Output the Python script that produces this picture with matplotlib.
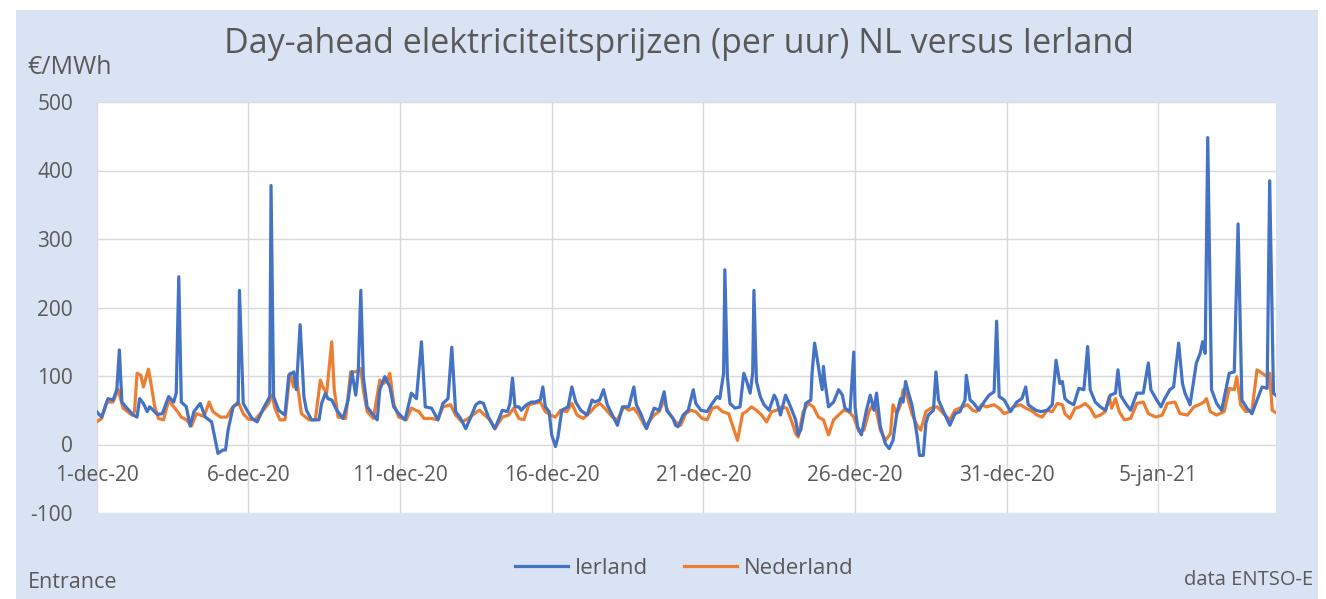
import matplotlib
matplotlib.use("Agg")
import matplotlib.pyplot as plt
from matplotlib.patches import Rectangle

# ---- data (hour offset from 1-dec-2020 00:00, price in EUR/MWh) ----
ie_hours = [0, 4, 9, 13, 16, 18, 20, 24, 29, 32, 34, 37, 40, 42, 48, 52, 57, 61, 63, 65, 67, 71, 74, 77, 82, 86, 91, 96, 100, 102, 104, 108, 112, 113, 116, 119, 123, 127, 132, 137, 138, 140, 144,
            149, 152, 156, 158, 161, 164, 166, 170, 176, 178, 181, 183, 186, 190, 195, 199, 202, 205, 207, 209, 211, 214, 218, 222, 224, 228, 232, 235, 239, 244, 249, 253, 257, 260, 265, 270, 274, 278, 281, 284, 288, 292, 296, 300,
            303, 306, 310, 315, 321, 325, 327, 329, 331, 334, 336, 340, 344, 347, 351, 353, 355, 358, 360, 363, 365, 368, 373, 376, 379, 383, 388, 392, 394, 398, 401, 404, 408, 412, 416, 421, 425, 427, 431, 435, 441, 445, 449, 451, 456,
            458, 460, 464, 468, 472, 474, 478, 483, 487, 491, 493, 496, 497, 499, 501, 505, 509, 512, 514, 517, 519, 520, 522, 525, 528, 532, 536, 538, 541, 545, 549, 553, 555, 557, 561, 565, 566, 568, 571, 572, 574, 575, 576, 579, 583, 587, 590, 592, 596, 599, 600, 602, 605, 609,
            612, 615, 617, 620, 624, 627, 630, 633, 636, 638, 640, 642, 645, 649, 651, 654, 656, 658, 662, 664, 666, 670, 675, 679, 683, 687, 688, 691, 694, 698, 702, 706, 710, 712, 714, 718, 723, 728, 732, 735, 737, 743, 747, 752, 756, 759, 762, 764,
            766, 769, 773, 777, 781, 784, 786, 790, 794, 798, 802, 806, 808, 810, 814, 818, 823, 828, 832, 834, 838, 842, 845, 849, 852, 856, 859, 861, 865, 870, 873, 875, 877, 879, 882, 886, 890, 896, 900, 903, 906, 910, 914, 918, 922, 926, 928, 931, 934]
ie_price = [48, 40, 67, 65, 80, 138, 62, 53, 43, 40, 67, 60, 48, 55, 44, 45, 70, 62, 75, 245, 62, 55, 27, 48, 60, 40, 33, -13, -8, -8, 21, 55, 60, 225, 60, 50, 38, 33, 53, 70, 378, 70, 50,
            43, 101, 106, 80, 175, 70, 50, 36, 36, 60, 75, 67, 65, 50, 38, 65, 106, 72, 106, 225, 99, 55, 45, 36, 80, 99, 84, 55, 45, 36, 75, 67, 150, 55, 53, 36, 60, 67, 142, 48, 38, 23, 40, 58,
            62, 60, 40, 23, 50, 48, 60, 97, 55, 55, 50, 58, 62, 62, 65, 84, 55, 48, 14, -3, 11, 50, 55, 84, 62, 50, 43, 65, 62, 65, 80, 58, 43, 28, 55, 55, 84, 58, 43, 23, 53, 50, 77, 50, 38,
            28, 26, 43, 50, 80, 60, 50, 48, 60, 70, 67, 104, 255, 99, 60, 53, 55, 104, 94, 75, 104, 225, 92, 70, 58, 50, 72, 65, 43, 72, 55, 36, 14, 21, 60, 65, 104, 148, 114, 101, 80, 114, 94, 55, 62, 80, 72, 53, 48, 135, 55, 26, 14, 50,
            72, 50, 75, 26, 1, -6, 6, 45, 67, 62, 92, 77, 58, 14, -16, -16, 31, 43, 50, 106, 65, 48, 28, 45, 48, 65, 101, 65, 60, 50, 62, 72, 77, 180, 70, 65, 48, 62, 67, 84, 58, 50, 48, 50, 58, 123, 89, 92,
            67, 62, 58, 82, 80, 143, 80, 62, 55, 50, 72, 75, 109, 72, 60, 50, 75, 75, 119, 80, 67, 55, 67, 80, 84, 148, 89, 75, 58, 119, 133, 150, 133, 448, 80, 60, 50, 104, 106, 322, 65, 53, 45, 65, 84, 82, 385, 75, 70]

nl_hours = [0, 4, 8, 13, 17, 21, 28, 30, 32, 35, 37, 39, 41, 43, 46, 49, 53, 57, 61, 64, 67, 71, 75, 79, 85, 89, 92, 98, 103, 107, 112, 116, 120, 125, 131, 136, 139, 141, 145,
            149, 153, 156, 158, 162, 168, 173, 177, 179, 182, 186, 188, 191, 197, 201, 205, 209, 211, 214, 219, 224, 227, 230, 232, 235, 239, 245, 249, 255, 259, 265, 270, 274, 280, 284, 289, 294, 301,
            303, 307, 311, 315, 321, 326, 330, 334, 338, 342, 346, 351, 355, 359, 363, 367, 372, 376, 380, 385, 391, 394, 398, 402, 408, 412, 417, 421, 425, 429, 434, 441, 445, 449, 452,
            458, 462, 466, 470, 474, 479, 483, 487, 491, 495, 500, 504, 507, 511, 514, 518, 522, 526, 530, 534, 538, 542, 546, 550, 553, 555, 559, 563, 567, 571, 575, 579, 583, 587, 591, 595, 599, 603, 607, 611,
            613, 615, 617, 620, 624, 628, 630, 633, 636, 638, 641, 645, 649, 652, 656, 660, 665, 670, 675, 679, 685, 689, 693, 696, 700, 704, 710, 714, 718, 722, 725, 731, 735, 739, 744, 748, 752, 756, 760, 764,
            766, 770, 774, 778, 782, 786, 790, 794, 798, 801, 803, 806, 809, 813, 818, 823, 828, 832, 838, 843, 847, 853, 857, 863, 868, 872, 876, 878, 881, 886, 892, 896, 900, 902, 905, 909, 914, 918, 922, 926, 928, 930, 934]
nl_price = [33, 38, 62, 62, 80, 53, 43, 48, 104, 101, 84, 97, 110, 89, 55, 38, 36, 65, 55, 48, 40, 36, 27, 45, 41, 62, 48, 40, 40, 53, 62, 45, 37, 36, 48, 60, 72, 53, 36,
            36, 104, 84, 101, 45, 36, 36, 94, 84, 75, 150, 80, 40, 38, 106, 106, 111, 80, 48, 38, 94, 89, 94, 104, 60, 40, 36, 53, 48, 38, 38, 36, 55, 58, 43, 33, 38, 48,
            50, 43, 36, 23, 40, 43, 53, 38, 36, 58, 60, 62, 48, 43, 40, 50, 48, 60, 43, 38, 48, 55, 60, 53, 40, 36, 55, 50, 53, 43, 26, 43, 48, 65, 48,
            33, 28, 45, 50, 48, 38, 36, 53, 55, 48, 45, 23, 6, 45, 48, 55, 50, 43, 33, 48, 50, 55, 53, 33, 16, 11, 48, 60, 55, 40, 36, 14, 36, 43, 50, 48, 40, 19, 21, 48,
            55, 60, 48, 21, 6, 16, 58, 45, 58, 80, 72, 45, 28, 21, 48, 53, 55, 45, 36, 50, 55, 58, 50, 48, 58, 55, 58, 53, 45, 48, 55, 58, 53, 50, 43, 40, 50, 48, 60, 58,
            45, 38, 53, 55, 60, 53, 40, 43, 48, 70, 53, 67, 48, 36, 38, 60, 62, 45, 40, 43, 60, 62, 45, 43, 55, 58, 62, 67, 48, 43, 48, 82, 80, 99, 58, 48, 50, 109, 104, 99, 104, 50, 45]

tick_hours = [0, 120, 240, 360, 480, 600, 720, 840]
tick_labels = ["1-dec-20", "6-dec-20", "11-dec-20", "16-dec-20", "21-dec-20", "26-dec-20", "31-dec-20", "5-jan-21"]
y_ticks = [-100, 0, 100, 200, 300, 400, 500]

# ---- drawing ----
W, H = 1326, 599
plt.rcParams['font.family'] = ['Open Sans', 'DejaVu Sans']
TXT = '#595959'
BG = '#dae3f3'

fig = plt.figure(figsize=(W / 100, H / 100), dpi=100, facecolor='white')
fig.patches.append(Rectangle((16 / W, 0), (1318 - 16) / W, 1 - 10 / H, transform=fig.transFigure,
                             facecolor=BG, edgecolor='none', zorder=-10))

ax = fig.add_axes([96.6 / W, 1 - 513 / H, (1276 - 96.6) / W, (513 - 102) / H])
ax.set_facecolor('white')
ax.plot(ie_hours, ie_price, color='#4472c4', lw=2.3, label='Ierland', solid_joinstyle='round', zorder=3)
ax.plot(nl_hours, nl_price, color='#ed7d31', lw=2.3, label='Nederland', solid_joinstyle='round', zorder=2)

ax.set_xlim(0, 933)
ax.set_ylim(-100, 500)
ax.set_yticks(y_ticks)
ax.set_yticklabels([str(v) for v in y_ticks])
ax.set_xticks(tick_hours)
ax.set_xticklabels([])
ax.grid(True, color='#d9d9d9', lw=1.0)
ax.set_axisbelow(True)
for s in ax.spines.values():
    s.set_visible(False)
ax.tick_params(axis='both', length=0, labelsize=15, colors=TXT, pad=17)

# x tick labels sit below the horizontal axis at 0 (as in the Excel original)
for h, lab in zip(tick_hours, tick_labels):
    ax.text(h, -45, lab, ha='center', va='center', fontsize=15, color=TXT)

fig.text(679 / W, 1 - 44 / H, 'Day-ahead elektriciteitsprijzen (per uur) NL versus Ierland',
         ha='center', va='center', fontsize=24.5, color=TXT)
fig.text(27 / W, 1 - 67 / H, '€/MWh', ha='left', va='center', fontsize=18, color=TXT)
fig.text(28 / W, 1 - 583 / H, 'Entrance', ha='left', va='center', fontsize=15.5, color=TXT)
fig.text(1313 / W, 1 - 580 / H, 'data ENTSO-E', ha='right', va='center', fontsize=14.5, color=TXT)

fig.legend(loc='center', bbox_to_anchor=(684 / W, 1 - 568 / H), ncol=2, frameon=False,
           fontsize=16, labelcolor=TXT, handlelength=2.4, handletextpad=0.3, columnspacing=1.6)

fig.savefig('out.png', dpi=100, facecolor=fig.get_facecolor())
